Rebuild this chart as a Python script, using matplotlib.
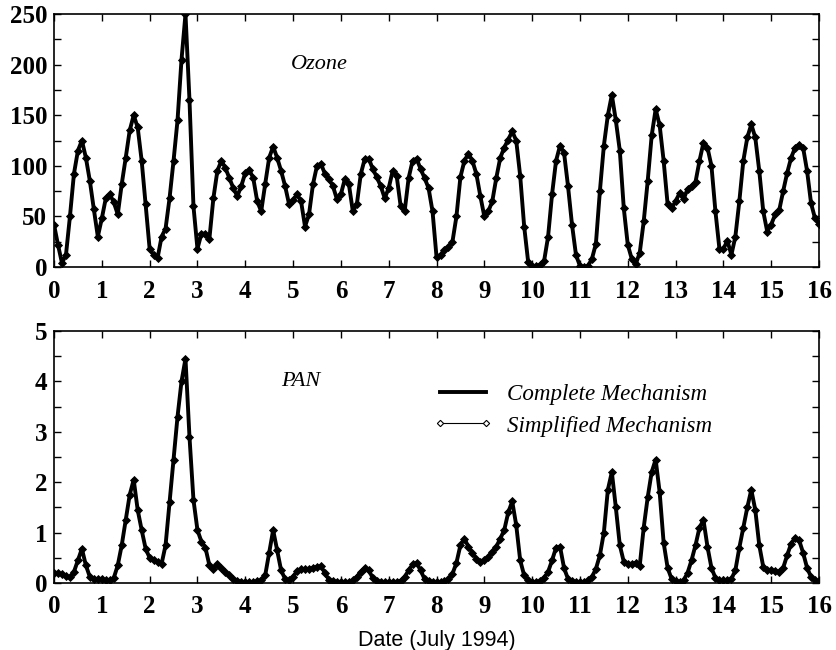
import numpy as np
import matplotlib
matplotlib.use('Agg')
import matplotlib.pyplot as plt
from matplotlib.ticker import MultipleLocator
from matplotlib.lines import Line2D

# two-hourly readings, 12 per day, 1 to 16 July 1994
ozone = [
    42, 22, 4, 12, 50, 92, 115, 125, 108, 85, 57, 30,
    48, 68, 72, 64, 52, 82, 108, 135, 150, 138, 105, 62,
    18, 12, 9, 30, 38, 68, 105, 145, 205, 250, 165, 60,
    18, 33, 33, 28, 68, 95, 105, 98, 88, 78, 70, 80,
    93, 96, 88, 65, 55, 82, 108, 119, 108, 95, 80, 62,
    66, 72, 65, 40, 52, 82, 100, 102, 92, 87, 80, 67,
    72, 87, 82, 55, 62, 92, 107, 107, 97, 89, 80, 68,
    78, 95, 90, 60, 55, 88, 105, 107, 97, 88, 78, 55,
    10, 12, 17, 20, 25, 50, 89, 105, 112, 105, 92, 70,
    50, 55, 65, 88, 108, 118, 126, 134, 125, 90, 40, 5,
    1, 1, 2, 6, 30, 72, 105, 120, 113, 80, 42, 12,
    1, 0, 1, 8, 23, 75, 120, 150, 170, 145, 115, 58,
    22, 8, 3, 14, 45, 85, 130, 156, 140, 105, 62, 58,
    65, 73, 67, 77, 80, 84, 105, 123, 118, 100, 55, 18,
    18, 26, 12, 30, 65, 105, 128, 141, 128, 95, 55, 35,
    42, 52, 56, 75, 93, 108, 118, 121, 118, 95, 63, 48,
    43,
]

pan = [
    0.20, 0.19, 0.17, 0.13, 0.11, 0.22, 0.45, 0.68, 0.35, 0.12, 0.08, 0.07,
    0.07, 0.06, 0.05, 0.10, 0.35, 0.75, 1.25, 1.75, 2.05, 1.45, 1.05, 0.68,
    0.50, 0.45, 0.42, 0.38, 0.75, 1.60, 2.45, 3.30, 4.00, 4.45, 2.90, 1.65,
    1.05, 0.82, 0.70, 0.35, 0.28, 0.38, 0.30, 0.22, 0.15, 0.08, 0.04, 0.02,
    0.02, 0.02, 0.02, 0.03, 0.05, 0.15, 0.60, 1.05, 0.65, 0.25, 0.08, 0.05,
    0.12, 0.24, 0.27, 0.28, 0.28, 0.30, 0.32, 0.33, 0.20, 0.06, 0.03, 0.02,
    0.02, 0.02, 0.02, 0.05, 0.12, 0.22, 0.30, 0.25, 0.10, 0.03, 0.02, 0.02,
    0.02, 0.02, 0.02, 0.04, 0.12, 0.25, 0.37, 0.40, 0.25, 0.08, 0.03, 0.02,
    0.02, 0.02, 0.03, 0.08, 0.18, 0.40, 0.75, 0.88, 0.72, 0.60, 0.48, 0.42,
    0.45, 0.52, 0.62, 0.72, 0.88, 1.05, 1.40, 1.62, 1.15, 0.45, 0.15, 0.05,
    0.02, 0.02, 0.03, 0.10, 0.22, 0.45, 0.70, 0.72, 0.30, 0.08, 0.03, 0.02,
    0.02, 0.02, 0.05, 0.12, 0.28, 0.55, 1.00, 1.85, 2.20, 1.50, 0.75, 0.42,
    0.38, 0.38, 0.40, 0.34, 1.10, 1.70, 2.20, 2.45, 1.80, 0.80, 0.30, 0.08,
    0.03, 0.02, 0.05, 0.20, 0.45, 0.75, 1.10, 1.25, 0.72, 0.30, 0.10, 0.05,
    0.05, 0.05, 0.08, 0.25, 0.70, 1.10, 1.50, 1.85, 1.45, 0.75, 0.32, 0.26,
    0.25, 0.24, 0.22, 0.30, 0.55, 0.78, 0.90, 0.85, 0.60, 0.30, 0.12, 0.05,
    0.04,
]

# the two mechanisms overlap everywhere on the printed figure
ozone_simplified = ozone
pan_simplified = pan

step_hours = 2
labels = ['Complete Mechanism', 'Simplified Mechanism']


def style_axis(ax, ymax, ymajor, yminor):
    ax.set_xlim(0, 16)
    ax.set_ylim(0, ymax)
    ax.xaxis.set_major_locator(MultipleLocator(1))
    ax.yaxis.set_major_locator(MultipleLocator(ymajor))
    ax.yaxis.set_minor_locator(MultipleLocator(yminor))
    ax.tick_params(which='both', direction='in', top=True, right=True,
                   length=5, width=1)
    ax.tick_params(axis='x', pad=9)
    ax.tick_params(axis='y', pad=5)
    for lab in ax.get_xticklabels() + ax.get_yticklabels():
        lab.set_fontweight('bold')
    for sp in ax.spines.values():
        sp.set_linewidth(1.2)


def plot_series(ax, t, complete, simplified):
    ax.plot(t, complete, '-', color='black', linewidth=2.8)
    ax.plot(t, simplified, '-', color='black', linewidth=0.8,
            marker='D', markersize=3.6, markerfacecolor='black',
            markeredgecolor='black', markeredgewidth=0.6)


plt.rcParams['font.family'] = 'Liberation Serif'
plt.rcParams['font.size'] = 18

fig = plt.figure(figsize=(8.36, 6.5), dpi=100)
ax1 = fig.add_axes([0.0646, 0.5892, 0.9151, 0.3892])
ax2 = fig.add_axes([0.0646, 0.1031, 0.9151, 0.3877])

t_oz = np.arange(len(ozone)) * step_hours / 24.0
t_pan = np.arange(len(pan)) * step_hours / 24.0

plot_series(ax1, t_oz, ozone, ozone_simplified)
plot_series(ax2, t_pan, pan, pan_simplified)

style_axis(ax1, 250, 50, 25)
style_axis(ax2, 5, 1, 0.5)

ax1.text(5.54, 200, 'Ozone', style='italic', fontsize=16,
         ha='center', va='center')
ax2.text(5.17, 3.99, 'PAN', style='italic', fontsize=16,
         ha='center', va='center')

# legend: plain thick line, thin line with open markers at the ends
lh1 = Line2D([], [], color='black', linewidth=2.8)
lh2 = Line2D([], [], color='black', linewidth=0.8, marker='D',
             markersize=3.2, markerfacecolor='white', markeredgewidth=0.8)
ax2.legend([lh1, lh2], labels, loc='upper left',
           bbox_to_anchor=(0.4954, 0.79), frameon=False,
           borderpad=0, borderaxespad=0, handlelength=2.6,
           handletextpad=0.6, labelspacing=0.45, numpoints=2,
           prop={'family': 'Liberation Serif', 'style': 'italic',
                 'size': 16.6})

ax2.set_xlabel('Date (July 1994)', family='Liberation Sans', fontsize=15.5,
               labelpad=8)

fig.savefig('out.png', dpi=100)
plt.close()
